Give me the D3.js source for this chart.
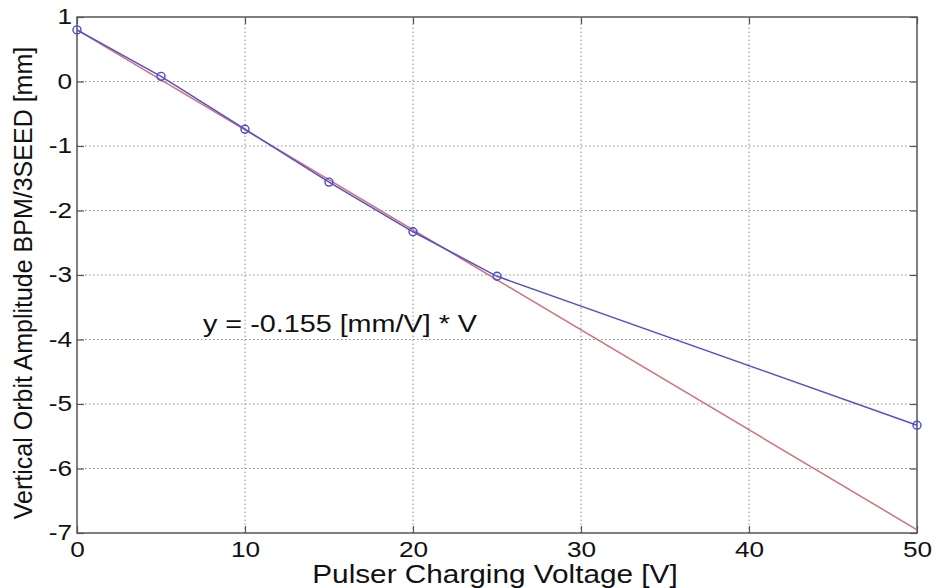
<!DOCTYPE html>
<html>
<head>
<meta charset="utf-8">
<script src="https://cdn.jsdelivr.net/npm/d3@7"></script>
<style>
  html, body { margin: 0; padding: 0; background: #fff; }
  svg { display: block; font-family: Arial, "Liberation Sans", sans-serif; }
</style>
</head>
<body>
<svg id="chart" width="933" height="588"></svg>
<script>
// Measured orbit amplitude vs. pulser charging voltage
const voltages = [0, 5, 10, 15, 20, 25, 50];
const amplitudes = [0.80, 0.08, -0.74, -1.56, -2.33, -3.02, -5.33];

// Linear fit: y = intercept + slope * V
const fitSlope = -0.155;
const fitIntercept = 0.80;
const fitRange = [0, 50];

const xTicks = [0, 10, 20, 30, 40, 50];
const yTicks = [1, 0, -1, -2, -3, -4, -5, -6, -7];

const margin = { left: 77, top: 17, right: 16, bottom: 55 };
const width = 933, height = 588;
const hStretch = 1.19;   // wide glyph aspect used for horizontal text

const svg = d3.select("#chart");

const x = d3.scaleLinear().domain([0, 50]).range([margin.left, width - margin.right]);
const y = d3.scaleLinear().domain([-7, 1]).range([height - margin.bottom, margin.top]);

const x0 = x.range()[0], x1 = x.range()[1];
const y0 = y.range()[0], y1 = y.range()[1];

// widen a horizontal text element by hStretch
function widen(sel) {
  sel.each(function () {
    const w = this.getComputedTextLength();
    d3.select(this).attr("textLength", w * hStretch).attr("lengthAdjust", "spacingAndGlyphs");
  });
}

// Dotted grid
const grid = svg.append("g").attr("stroke", "#8a8a8a").attr("stroke-width", 1)
  .attr("stroke-dasharray", "1.5,2.5");
grid.selectAll("line.gx").data(xTicks.filter(t => t > 0 && t < 50)).join("line")
  .attr("x1", d => x(d)).attr("x2", d => x(d)).attr("y1", y0).attr("y2", y1);
grid.selectAll("line.gy").data(yTicks.filter(t => t > -7 && t < 1)).join("line")
  .attr("x1", x0).attr("x2", x1).attr("y1", d => y(d)).attr("y2", d => y(d));

// Axes with inward ticks on all four sides
const tickLen = 7;
const axisColor = "#555";
const tickFont = 22;
const titleFont = 25;
const fmt = d => String(d);

const xAxisB = d3.axisBottom(x).tickValues(xTicks).tickFormat(fmt).tickSizeInner(-tickLen).tickSizeOuter(0).tickPadding(3);
const gxB = svg.append("g").attr("transform", `translate(0,${y0})`).call(xAxisB);
const xAxisT = d3.axisTop(x).tickValues(xTicks).tickSizeInner(-tickLen).tickSizeOuter(0).tickFormat("");
const gxT = svg.append("g").attr("transform", `translate(0,${y1})`).call(xAxisT);
const yAxisL = d3.axisLeft(y).tickValues(yTicks).tickFormat(fmt).tickSizeInner(-tickLen).tickSizeOuter(0).tickPadding(5);
const gyL = svg.append("g").attr("transform", `translate(${x0},0)`).call(yAxisL);
const yAxisR = d3.axisRight(y).tickValues(yTicks).tickSizeInner(-tickLen).tickSizeOuter(0).tickFormat("");
const gyR = svg.append("g").attr("transform", `translate(${x1},0)`).call(yAxisR);

[gxB, gxT, gyL, gyR].forEach(g => {
  g.select(".domain").remove();
  g.selectAll(".tick line").attr("stroke", axisColor).attr("stroke-width", 1.2);
  g.selectAll("text").attr("fill", "#111").attr("font-size", tickFont)
    .attr("font-family", "Arial, 'Liberation Sans', sans-serif");
});
gxB.selectAll("text").attr("dy", "0.95em");
gyL.selectAll("text").attr("dy", "0.3em");
widen(gxB.selectAll("text"));
widen(gyL.selectAll("text"));

// Plot frame
svg.append("rect").attr("x", x0).attr("y", y1).attr("width", x1 - x0).attr("height", y0 - y1)
  .attr("fill", "none").attr("stroke", axisColor).attr("stroke-width", 1.5);

// Fit line
svg.append("line")
  .attr("x1", x(fitRange[0])).attr("y1", y(fitIntercept + fitSlope * fitRange[0]))
  .attr("x2", x(fitRange[1])).attr("y2", y(fitIntercept + fitSlope * fitRange[1]))
  .attr("stroke", "#d2707a").attr("stroke-width", 1.5);

// Measured data
const pts = voltages.map((v, i) => [v, amplitudes[i]]);
svg.append("path").datum(pts)
  .attr("d", d3.line().x(d => x(d[0])).y(d => y(d[1])))
  .attr("fill", "none").attr("stroke", "#5252c8").attr("stroke-width", 1.5);
svg.selectAll("circle.pt").data(pts).join("circle")
  .attr("cx", d => x(d[0])).attr("cy", d => y(d[1])).attr("r", 4)
  .attr("fill", "none").attr("stroke", "#4a4ad0").attr("stroke-width", 1.4);

// Fit annotation
svg.append("text").attr("x", 203).attr("y", 332)
  .attr("font-size", 23).attr("fill", "#111")
  .attr("textLength", 274).attr("lengthAdjust", "spacingAndGlyphs")
  .text("y = -0.155 [mm/V] * V");

// Axis titles
svg.append("text").attr("x", (x0 + x1) / 2 - 2).attr("y", 583)
  .attr("text-anchor", "middle").attr("font-size", titleFont).attr("fill", "#111")
  .text("Pulser Charging Voltage [V]")
  .call(widen);
svg.append("text")
  .attr("transform", `translate(32,${(y0 + y1) / 2 + 8}) rotate(-90)`)
  .attr("text-anchor", "middle").attr("font-size", titleFont).attr("fill", "#111")
  .text("Vertical Orbit Amplitude BPM/3SEED [mm]");
</script>
</body>
</html>
